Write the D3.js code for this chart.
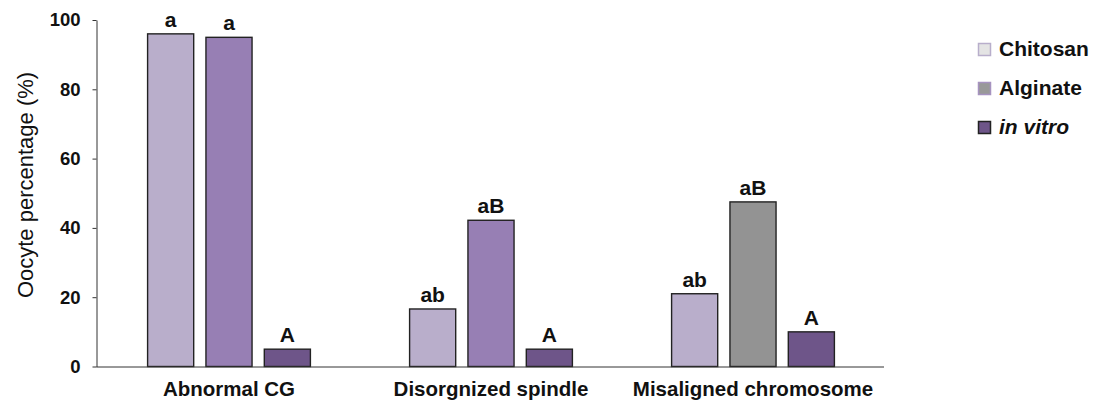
<!DOCTYPE html>
<html>
<head>
<meta charset="utf-8">
<script src="https://cdn.jsdelivr.net/npm/d3@7"></script>
<style>
  body { margin: 0; background: #fff; }
  svg { font-family: "Liberation Sans", Arial, sans-serif; }
</style>
</head>
<body>
<div id="chart"></div>
<script>
const categories = ['Abnormal CG', 'Disorgnized spindle', 'Misaligned chromosome'];
const series = ['Chitosan', 'Alginate', 'in vitro'];
const chitosan = [96, 16.6, 21];
const alginate = [95, 42.2, 47.5];
const inVitro = [5, 5, 10];
const chitosanLetters = ['a', 'ab', 'ab'];
const alginateLetters = ['a', 'aB', 'aB'];
const inVitroLetters = ['A', 'A', 'A'];
const yTicks = [0, 20, 40, 60, 80, 100];

const values = [chitosan, alginate, inVitro];
const letters = [chitosanLetters, alginateLetters, inVitroLetters];

const width = 1098, height = 400;
const barFill = ['#b9aecb', '#977fb4', '#6e5589'];
const legendFill = ['#e4e4e4', '#999999', '#6e5589'];
const legendStroke = ['#b8aecb', '#a693c0', '#222'];
// one bar in the reference is drawn gray instead of purple
const fillFor = (si, ci) => (si === 1 && ci === 2) ? '#939393' : barFill[si];

const svg = d3.select('#chart').append('svg')
  .attr('width', width)
  .attr('height', height);

const y = d3.scaleLinear().domain([0, 100]).range([366.5, 20]);
const x0 = d3.scaleBand().domain(categories).range([98, 884]);
const x1 = d3.scaleBand().domain(series).range([-81.4, 81.4]).paddingInner(0.21);

// y axis
const yAxis = svg.append('g')
  .attr('transform', 'translate(96.5,0)')
  .call(d3.axisLeft(y).tickValues(yTicks).tickSize(4).tickPadding(12).tickSizeOuter(0));
yAxis.select('.domain').attr('stroke', '#333');
yAxis.selectAll('.tick line').attr('stroke', '#333');
yAxis.selectAll('.tick text')
  .attr('font-size', 18.5).attr('font-weight', 'bold').attr('fill', '#111')
  .attr('font-family', '"Liberation Sans", Arial, sans-serif');

svg.append('text')
  .attr('transform', 'translate(33,185) rotate(-90)')
  .attr('text-anchor', 'middle')
  .attr('font-size', 22)
  .attr('fill', '#111')
  .text('Oocyte percentage (%)');

// bars
const groups = svg.selectAll('.grp')
  .data(categories)
  .join('g')
  .attr('class', 'grp')
  .attr('transform', d => `translate(${x0(d) + x0.bandwidth() / 2},0)`);

groups.each(function (cat, ci) {
  const g = d3.select(this);
  series.forEach((s, si) => {
    const v = values[si][ci];
    g.append('rect')
      .attr('x', x1(s))
      .attr('y', y(v))
      .attr('width', x1.bandwidth())
      .attr('height', y(0) - y(v))
      .attr('fill', fillFor(si, ci))
      .attr('stroke', '#222')
      .attr('stroke-width', 1.4);
    g.append('text')
      .attr('x', x1(s) + x1.bandwidth() / 2)
      .attr('y', y(v) - 7)
      .attr('text-anchor', 'middle')
      .attr('font-size', 21)
      .attr('font-weight', 'bold')
      .attr('fill', '#111')
      .text(letters[si][ci]);
  });
});

// x axis line (no ticks)
const xAxis = svg.append('g')
  .attr('transform', `translate(0,${y(0)})`)
  .call(d3.axisBottom(x0).tickSize(0).tickSizeOuter(0));
xAxis.select('.domain').attr('stroke', '#333').attr('d', 'M96.5,0.5H884');
xAxis.selectAll('.tick text')
  .attr('y', 29).attr('dy', null)
  .attr('font-size', 20.5).attr('font-weight', 'bold').attr('fill', '#111')
  .attr('font-family', '"Liberation Sans", Arial, sans-serif');

// legend
const legend = svg.append('g').attr('transform', 'translate(978,0)');
const legendY = [49, 88, 127];
series.forEach((s, i) => {
  legend.append('rect')
    .attr('x', 0.5).attr('y', legendY[i] - 5.5)
    .attr('width', 12).attr('height', 12)
    .attr('fill', legendFill[i])
    .attr('stroke', legendStroke[i])
    .attr('stroke-width', 1.5);
  legend.append('text')
    .attr('x', 21).attr('y', legendY[i])
    .attr('dy', '0.35em')
    .attr('font-size', 21)
    .attr('font-weight', 'bold')
    .attr('font-style', s === 'in vitro' ? 'italic' : 'normal')
    .attr('fill', '#111')
    .text(s);
});
</script>
</body>
</html>
